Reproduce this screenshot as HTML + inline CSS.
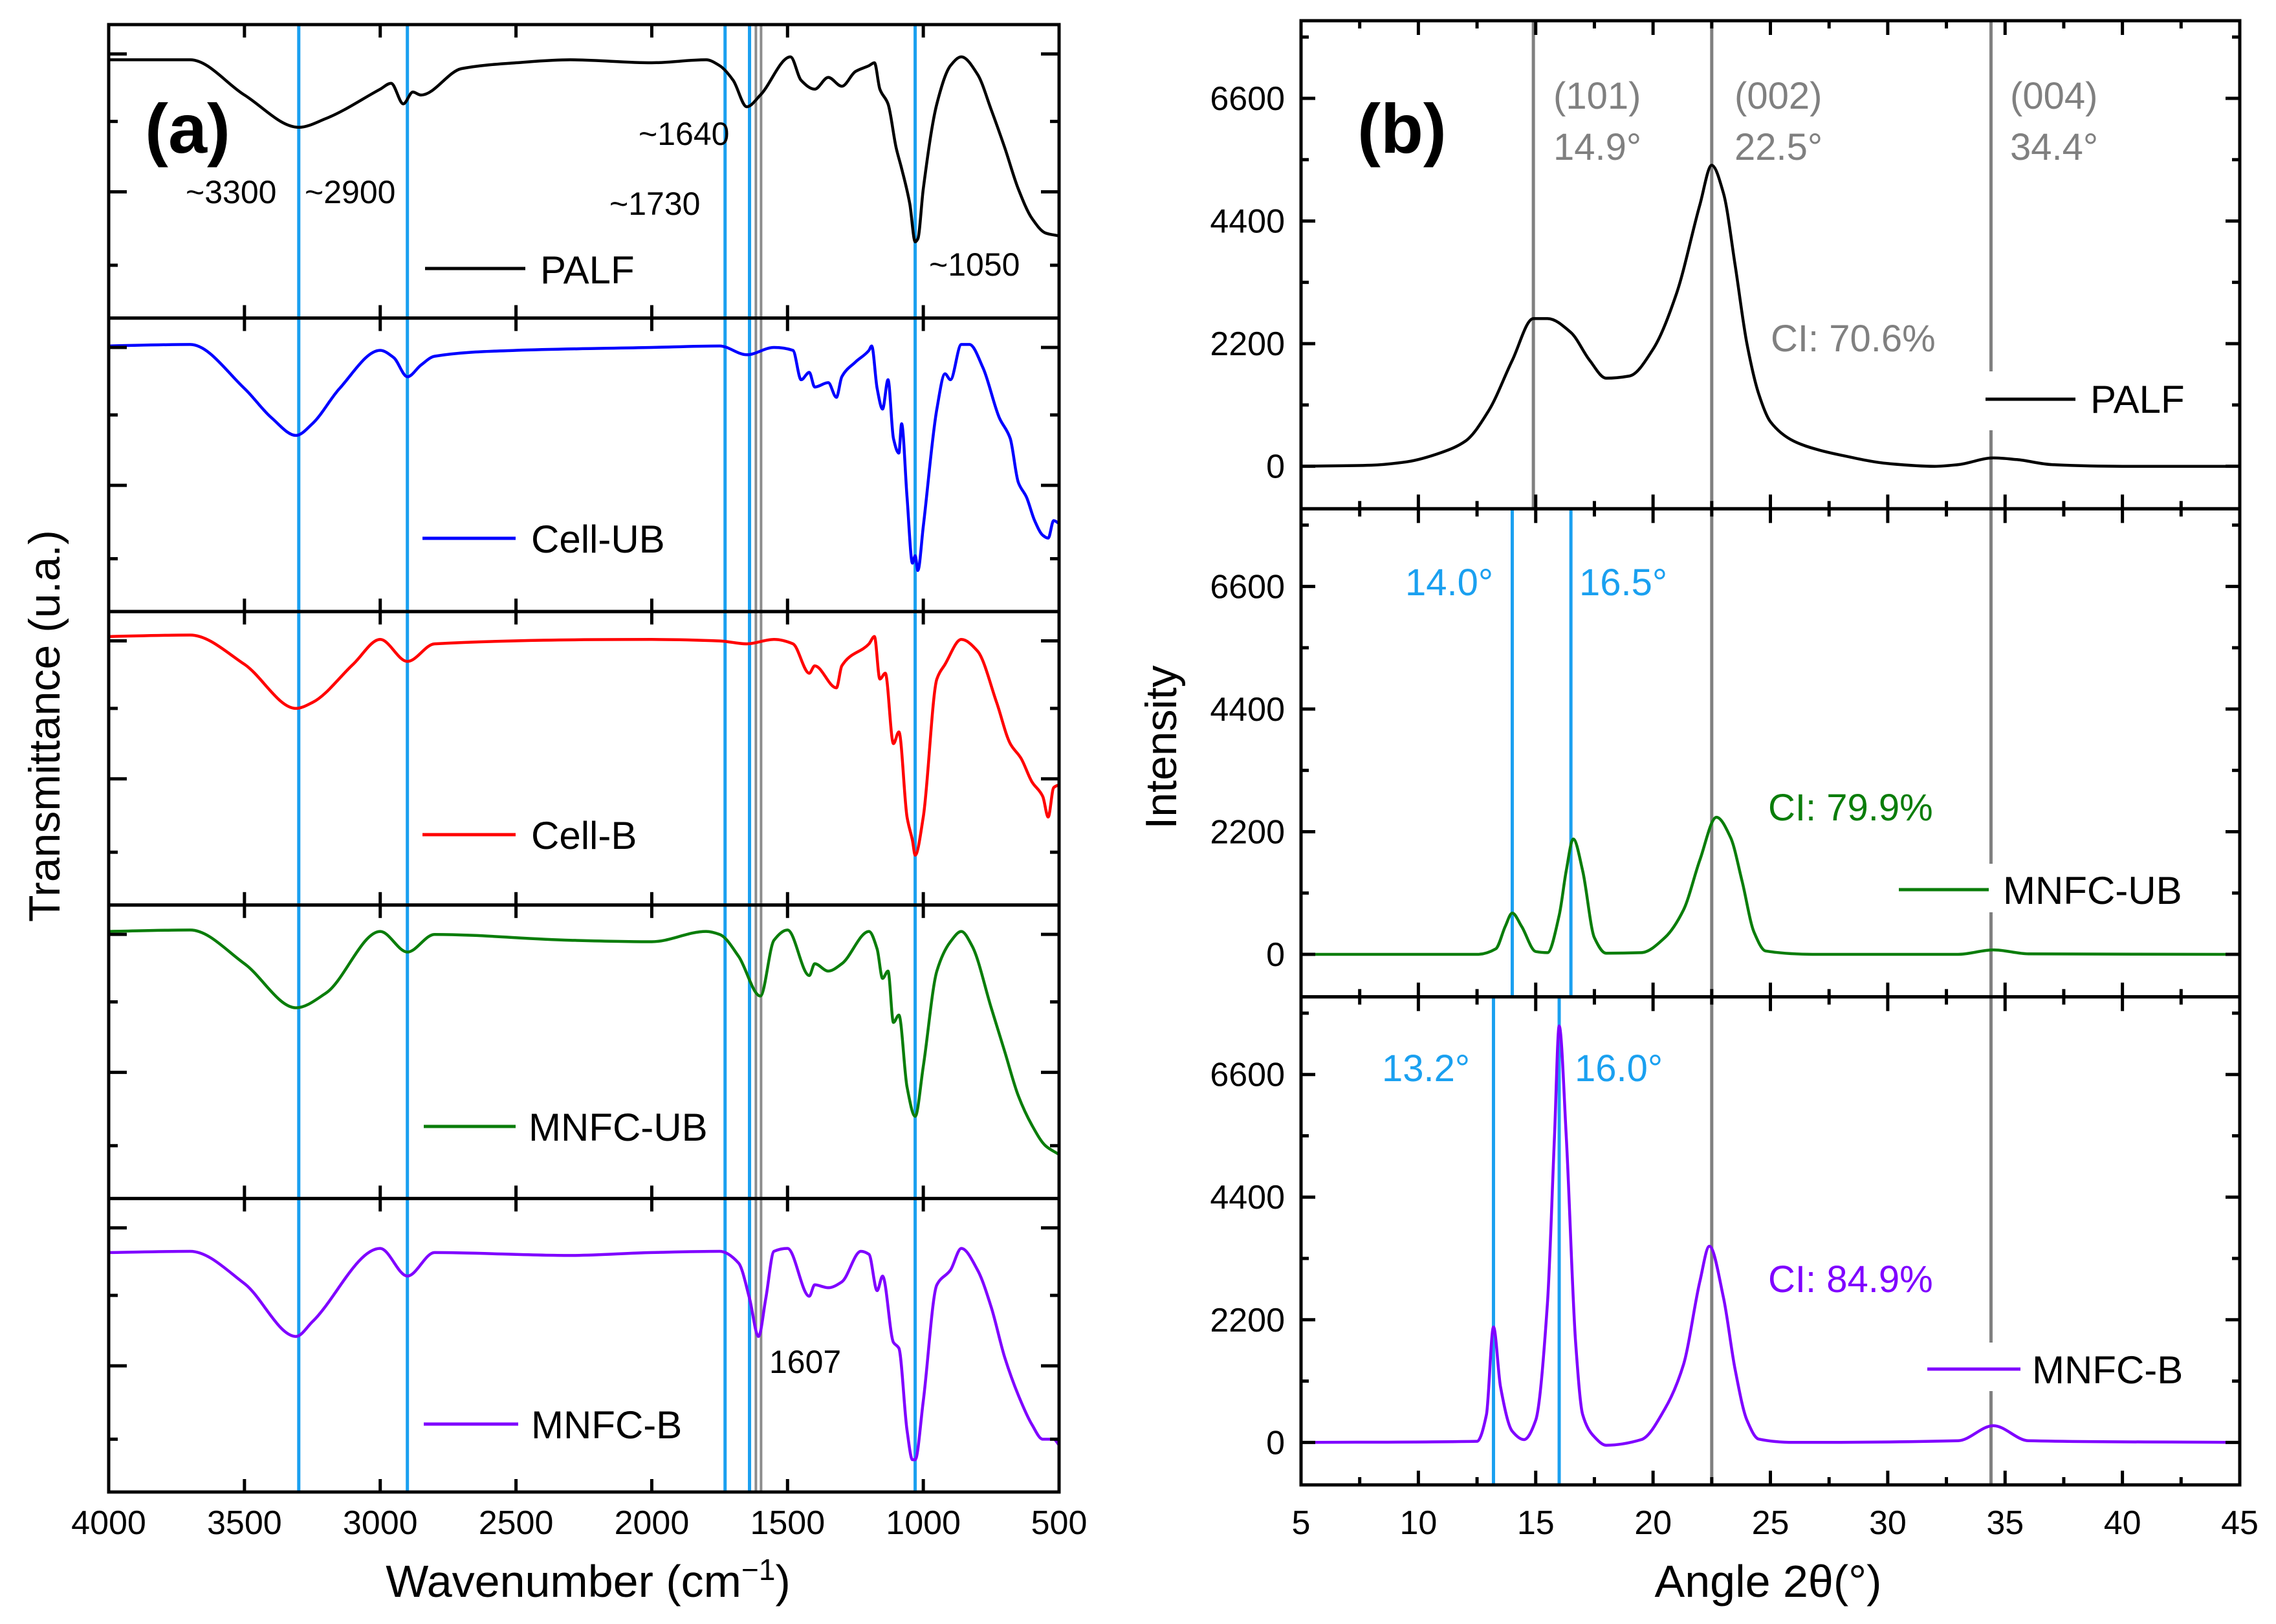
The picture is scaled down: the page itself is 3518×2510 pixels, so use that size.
<!DOCTYPE html>
<html><head><meta charset="utf-8">
<style>
html,body{margin:0;padding:0;background:#fff;}
svg{display:block;font-family:"Liberation Sans",Arial,sans-serif;}
</style></head>
<body>
<svg id="fig" width="3518" height="2510" viewBox="0 0 3518 2510" xmlns="http://www.w3.org/2000/svg">
<rect width="3518" height="2510" fill="#fff"/>
<g id="pa"></g>
<g id="pb"></g>
</svg>
<script>
// ---------- FTIR data (wavenumber, relative transmittance 0..100 within stacked panel) ----------
const palfW = [4000,3700,3500,3300,3200,3000,2960,2915,2880,2850,2700,2500,2300,2000,1800,1750,1700,1650,1600,1489,1450,1400,1350,1300,1250,1200,1180,1160,1130,1100,1080,1050,1030,1020,1000,950,900,860,800,750,700,650,600,550,500];
const palfT = [88,88,76,65,68,78,80,73,77,76,85,87,88,87,88,86,81,72,76,89,81,78,82,79,84,86,87,78,73,58,51,39,26,27,44,73,86,89,83,71,58,44,34,29,28];
const cellubW = [4000,3700,3500,3400,3310,3250,3150,3000,2950,2900,2850,2800,2500,2000,1750,1650,1550,1480,1450,1420,1400,1350,1320,1300,1250,1200,1190,1170,1150,1130,1110,1090,1080,1060,1040,1030,1020,1000,950,920,900,860,830,780,720,680,650,620,590,560,540,520,500];
const cellubT = [90.5,91,76,66,60,64,76,89,86.5,80,84,87,89,90,90.5,87.5,90,89,79,81.5,76.5,78,73,80,85,89,90.5,76,69,79,59,54,64,39,16.5,19,14,29,69,81,79,91,91,83,66,59,44,39,31,26,25,31,30];
const cellbW = [4000,3700,3500,3310,3250,3100,3000,2900,2800,2000,1750,1650,1550,1480,1420,1400,1320,1300,1200,1180,1160,1140,1110,1090,1060,1040,1030,1000,950,920,860,800,730,680,640,600,560,540,520,500];
const cellbT = [91.5,92,82,67,69,82,90.5,83,89,90.5,90,89,90.5,89,79,81.5,74,81.5,89,91.5,77,79,55,59,30,22,17,30,77,82,90.5,86.5,69,55,50,42,37,30,40,41];
const mnfcubW = [4000,3700,3500,3310,3200,3000,2900,2800,2300,2000,1800,1750,1680,1600,1550,1500,1420,1400,1350,1300,1200,1170,1150,1130,1110,1090,1060,1030,1000,950,900,860,820,750,700,650,600,550,500];
const mnfcubT = [91,91.5,80,65,70,91,84,90,88,87.5,91,90,82.5,69,88,91.5,76,80,77.5,80,91,85,75,77.5,60,62.5,38,28,45,77.5,87.5,91,86,65,50,35,25,18,15];
const mnfcbW = [4000,3700,3500,3310,3250,3000,2900,2800,2300,2000,1750,1680,1640,1607,1580,1550,1500,1420,1400,1350,1300,1230,1200,1170,1150,1110,1090,1060,1040,1030,1000,950,900,860,800,750,700,650,600,560,520,500];
const mnfcbT = [81.6,82,71,53,58,83,73.6,81.6,80.6,81.6,82,78,66,53,66,82,83,66.7,70.6,69.6,71.6,82,81,68.6,73.6,51,49,21,11,11,31,70.6,75.6,83,75.6,63,45.8,33,23,18,18,16];
const ftirNames = ["PALF","Cell-UB","Cell-B","MNFC-UB","MNFC-B"];
const ftirTicks = [4000,3500,3000,2500,2000,1500,1000,500];
const ftirMarkersBlue = [3300,2900,1730,1640,1030];
const ftirMarkerGray = [1607];

// ---------- XRD data (2theta, intensity) ----------
const palfA = [5,8,9.5,11,12,13,14,14.9,15.5,16.5,17.3,18,19,20,21,22,22.5,23,23.5,24,24.5,25,26,27,28,30,32,33,34.5,35.5,37,40,45];
const palfI = [0,20,80,250,450,1000,1900,2650,2650,2400,1900,1580,1620,2100,3100,4700,5400,4900,3600,2200,1300,800,450,300,200,50,0,30,150,120,30,0,0];
const mubA = [5,12.5,13.3,13.7,14,14.4,15,15.5,16,16.3,16.6,17,17.5,18,19.5,20.5,21.3,22,22.7,23.3,23.8,24.3,24.8,27,33,34.5,36,45];
const mubI = [0,0,100,500,740,500,50,30,700,1500,2070,1500,300,20,30,300,800,1700,2460,2100,1300,400,60,0,0,80,10,0];
const mbA = [5,12.5,12.9,13.2,13.5,14,14.5,15,15.5,15.8,16,16.3,16.7,17,17.5,18,19.5,20.5,21.3,22,22.4,23,23.5,24,24.5,26,33,34.5,36,45];
const mbI = [0,20,500,2070,1000,200,50,400,2500,5500,7470,5500,1800,500,100,-50,50,600,1400,2900,3520,2600,1300,400,60,0,30,300,30,0];
const xrdXTicks = [5,10,15,20,25,30,35,40,45];
const xrdYTicks = [0,2200,4400,6600];

const NS="http://www.w3.org/2000/svg";
function mk(parent,tag,attrs,text){const e=document.createElementNS(NS,tag);for(const k in attrs)e.setAttribute(k,attrs[k]);if(text!==undefined)e.textContent=text;parent.appendChild(e);return e;}
// monotone cubic (Fritsch-Carlson) through x-increasing screen points
function smoothPath(pts){const n=pts.length;const dx=[],s=[];
 for(let i=0;i<n-1;i++){dx.push(pts[i+1][0]-pts[i][0]);s.push((pts[i+1][1]-pts[i][1])/dx[i]);}
 const m=new Array(n);m[0]=s[0];m[n-1]=s[n-2];
 for(let i=1;i<n-1;i++){if(s[i-1]*s[i]<=0)m[i]=0;else{const w1=2*dx[i]+dx[i-1],w2=dx[i]+2*dx[i-1];m[i]=(w1+w2)/(w1/s[i-1]+w2/s[i]);}}
 let d="M"+pts[0][0].toFixed(1)+","+pts[0][1].toFixed(1);
 for(let i=0;i<n-1;i++){const h=dx[i]/3;
  d+="C"+(pts[i][0]+h).toFixed(1)+","+(pts[i][1]+m[i]*h).toFixed(1)+" "+(pts[i+1][0]-h).toFixed(1)+","+(pts[i+1][1]-m[i+1]*h).toFixed(1)+" "+pts[i+1][0].toFixed(1)+","+pts[i+1][1].toFixed(1);}
 return d;}

// ===== Panel A =====
const pa=document.getElementById('pa');
const AL=168,AR=1637,AT=38,AB=2306,AH=(AB-AT)/5;
const ax=w=>AL+(4000-w)/3500*(AR-AL);
const ay=(i,v)=>AT+AH*(i+1)-v/100*AH;
const ftirW=[palfW,cellubW,cellbW,mnfcubW,mnfcbW], ftirT=[palfT,cellubT,cellbT,mnfcubT,mnfcbT];
const ftirCol=["#000000","#0000ff","#ff0000","#0a7d0a","#7f00ff"];
const gA=mk(pa,'g',{});


ftirMarkerGray.forEach(w=>{[-4,4].forEach(o=>{const l=mk(gA,'line',{x1:ax(w)+o,x2:ax(w)+o,y1:AT,y2:AB,stroke:'#8c8c8c','stroke-width':4});
 
 });});
ftirMarkersBlue.forEach(w=>{const l=mk(gA,'line',{x1:ax(w),x2:ax(w),y1:AT,y2:AB,stroke:'#1aa0f0','stroke-width':5});
 
 });
for(let i=0;i<5;i++){
 const pts=ftirW[i].map((w,k)=>[ax(w),ay(i,ftirT[i][k])]);
 const p=mk(pa,'path',{d:smoothPath(pts),fill:'none',stroke:ftirCol[i],'stroke-width':4.5,'stroke-linejoin':'round'});
 
 
 const top=AT+AH*i;
 const r=mk(pa,'rect',{x:AL,y:top,width:AR-AL,height:AH,fill:'none',stroke:'#000','stroke-width':5});
 
 
 ftirTicks.forEach(w=>{mk(pa,'line',{x1:ax(w),x2:ax(w),y1:top,y2:top+20,stroke:'#000','stroke-width':5});mk(pa,'line',{x1:ax(w),x2:ax(w),y1:top+AH,y2:top+AH-20,stroke:'#000','stroke-width':5});});
 [0.1,0.33,0.57,0.82].forEach((f,k)=>{const yy=top+AH*f,len=k%2===0?28:14;
  mk(pa,'line',{x1:AL,x2:AL+len,y1:yy,y2:yy,stroke:'#000','stroke-width':5});mk(pa,'line',{x1:AR,x2:AR-len,y1:yy,y2:yy,stroke:'#000','stroke-width':5});});
}
const legA=[[657,812,415,835,438],[653,797,832,821,854],[653,797,1290,821,1312],[655,797,1741,817,1763],[655,801,2201,821,2223]];
legA.forEach((g,i)=>{
 const l=mk(pa,'line',{x1:g[0],x2:g[1],y1:g[2],y2:g[2],stroke:ftirCol[i],'stroke-width':5});
 
 
 const t=mk(pa,'text',{x:g[3],y:g[4],'font-size':60,fill:'#000'},ftirNames[i]);
 
 });
const annA=[["~3300",287,314],["~2900",471,314],["~1640",987,224],["~1730",942,332],["~1050",1436,426],["1607",1189,2122]];
annA.forEach(a=>{const t=mk(pa,'text',{x:a[1],y:a[2],'font-size':50,fill:'#000'},a[0]);
 
 });
ftirTicks.forEach(w=>{const t=mk(pa,'text',{x:ax(w),y:2371,'font-size':52,'text-anchor':'middle'},String(w));
 
 });
</script>
<script>
(function(){const pa=document.getElementById('pa');
pa.insertAdjacentHTML('beforeend','<text x="224" y="236" font-size="108" font-weight="bold">(a)</text>'+
'<text x="909" y="2468" font-size="70" text-anchor="middle">Wavenumber (cm<tspan dy="-26" font-size="46">−1</tspan><tspan dy="26">)</tspan></text>'+
'<text transform="translate(92,1122) rotate(-90)" font-size="68" text-anchor="middle">Transmittance (u.a.)</text>');})();

// ===== Panel B =====
(function(){
const pb=document.getElementById('pb');
const BL=2011,BR=3462,BT=32,BB=2295,BH=(BB-BT)/3;
const YMIN=-762,YMAX=7993;
const bx=a=>BL+(a-5)/40*(BR-BL);
const by=(i,v)=>BT+BH*(i+1)-(v-YMIN)/(YMAX-YMIN)*BH;
const A=[palfA,mubA,mbA],I=[palfI,mubI,mbI],col=["#000000","#0a7d0a","#7f00ff"],nm=["PALF","MNFC-UB","MNFC-B"];
const g=mk(pb,'g',{});


function vl(a,y1,y2,c,name){const l=mk(g,'line',{x1:bx(a),x2:bx(a),y1:y1,y2:y2,stroke:c,'stroke-width':5});
 
 }
vl(14.9,BT,BT+BH,'#808080','marker-101');
vl(22.5,BT,BB,'#808080','marker-002');
vl(34.4,BT,574,'#808080','marker-004');vl(34.4,665,1335,'#808080','marker-004');vl(34.4,1410,2075,'#808080','marker-004');vl(34.4,2150,BB,'#808080','marker-004');
vl(14.0,BT+BH,BT+2*BH,'#1aa0f0','marker-14-0');vl(16.5,BT+BH,BT+2*BH,'#1aa0f0','marker-16-5');
vl(13.2,BT+2*BH,BB,'#1aa0f0','marker-13-2');vl(16.0,BT+2*BH,BB,'#1aa0f0','marker-16-0');
for(let i=0;i<3;i++){
 const pts=A[i].map((a,k)=>[bx(a),by(i,I[i][k])]);
 const p=mk(pb,'path',{d:smoothPath(pts),fill:'none',stroke:col[i],'stroke-width':4.5,'stroke-linejoin':'round'});
 
 
 const top=BT+BH*i;
 const r=mk(pb,'rect',{x:BL,y:top,width:BR-BL,height:BH,fill:'none',stroke:'#000','stroke-width':5});
 
 
 for(let a=5;a<=45;a+=2.5){const len=(a%5===0)?22:12;
  mk(pb,'line',{x1:bx(a),x2:bx(a),y1:top,y2:top+len,stroke:'#000','stroke-width':5});mk(pb,'line',{x1:bx(a),x2:bx(a),y1:top+BH,y2:top+BH-len,stroke:'#000','stroke-width':5});}
 for(let v=-1100;v<=7700;v+=1100){const yy=by(i,v);if(yy<top+2||yy>top+BH-2)continue;const len=(v%2200===0)?22:12;
  mk(pb,'line',{x1:BL,x2:BL+len,y1:yy,y2:yy,stroke:'#000','stroke-width':5});mk(pb,'line',{x1:BR,x2:BR-len,y1:yy,y2:yy,stroke:'#000','stroke-width':5});}
 xrdYTicks.forEach(v=>{const t=mk(pb,'text',{x:1986,y:by(i,v)+18,'font-size':52,'text-anchor':'end'},String(v));
  
  });
}
xrdXTicks.forEach(a=>{const t=mk(pb,'text',{x:bx(a),y:2371,'font-size':52,'text-anchor':'middle'},String(a));
 
 });
pb.insertAdjacentHTML('beforeend',
'<text x="2098" y="236" font-size="108" font-weight="bold">(b)</text>'+
'<g font-size="58" fill="#808080">'+
'<text x="2401" y="168">(101)</text><text x="2401" y="247">14.9°</text>'+
'<text x="2681" y="168">(002)</text><text x="2681" y="247">22.5°</text>'+
'<text x="3107" y="168">(004)</text><text x="3107" y="247">34.4°</text>'+
'<text x="2737" y="543">CI: 70.6%</text></g>'+
'<line x1="3069" x2="3208" y1="617" y2="617" stroke="#000" stroke-width="5"/>'+
'<text x="3231" y="638" font-size="60">PALF</text>'+
'<g font-size="58" fill="#1aa0f0"><text x="2172" y="920">14.0°</text><text x="2441" y="920">16.5°</text></g>'+
'<text x="2733" y="1268" font-size="58" fill="#0a7d0a">CI: 79.9%</text>'+
'<line x1="2935" x2="3074" y1="1375" y2="1375" stroke="#0a7d0a" stroke-width="5"/>'+
'<text x="3096" y="1397" font-size="60">MNFC-UB</text>'+
'<g font-size="58" fill="#1aa0f0"><text x="2136" y="1671">13.2°</text><text x="2434" y="1671">16.0°</text></g>'+
'<text x="2733" y="1997" font-size="58" fill="#7f00ff">CI: 84.9%</text>'+
'<line x1="2979" x2="3123" y1="2116" y2="2116" stroke="#7f00ff" stroke-width="5"/>'+
'<text x="3141" y="2138" font-size="60">MNFC-B</text>'+
'<text x="2733" y="2468" font-size="70" text-anchor="middle">Angle 2θ(°)</text>'+
'<text transform="translate(1818,1155) rotate(-90)" font-size="68" text-anchor="middle">Intensity</text>');
})();
</script>
</body></html>
